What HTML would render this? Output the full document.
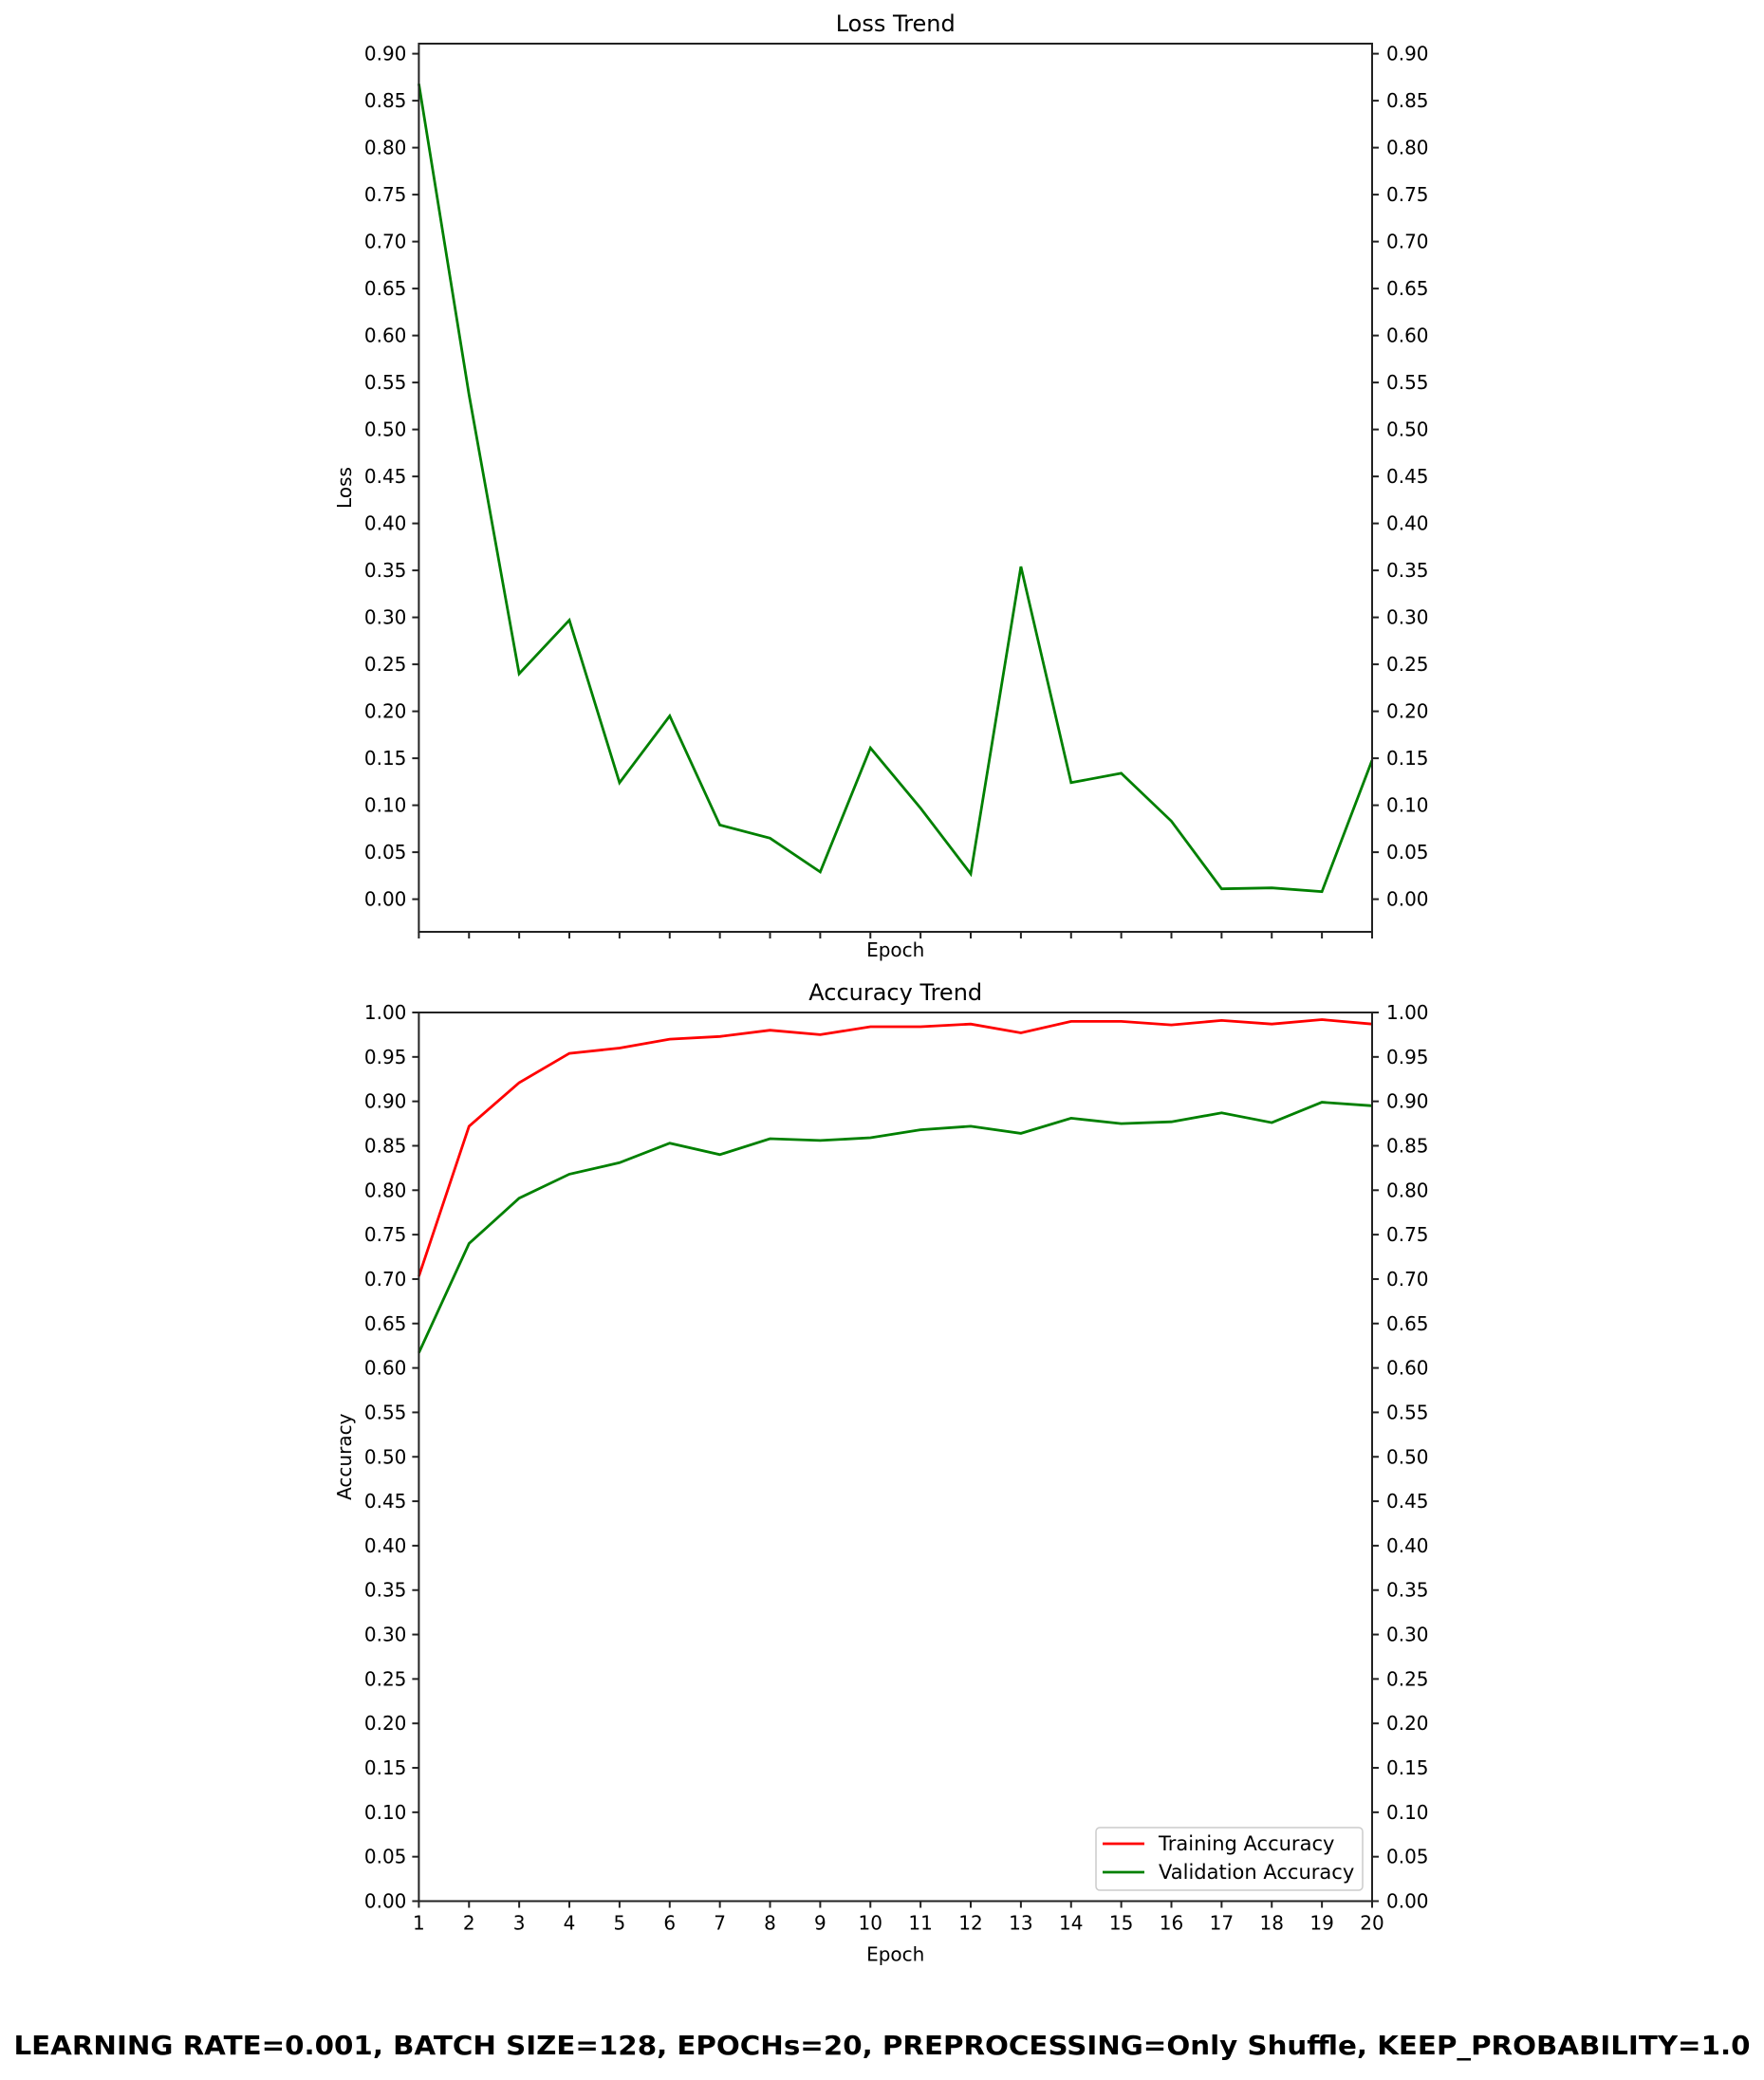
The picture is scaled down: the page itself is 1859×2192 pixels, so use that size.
<!DOCTYPE html>
<html><head><meta charset="utf-8"><style>
html,body{margin:0;padding:0;background:#fff;}
svg text{font-family:"DejaVu Sans","Liberation Sans",sans-serif;fill:#000;}
</style></head><body>
<svg id="fig" xmlns="http://www.w3.org/2000/svg" width="1859" height="2187" viewBox="0 0 1859 2187"></svg>
<script>
const epochs = [1,2,3,4,5,6,7,8,9,10,11,12,13,14,15,16,17,18,19,20];
const lossValues = [0.868,0.537,0.240,0.297,0.124,0.195,0.079,0.065,0.029,0.161,0.097,0.027,0.354,0.124,0.134,0.083,0.011,0.012,0.008,0.148];
const trainAcc = [0.703,0.872,0.921,0.954,0.960,0.970,0.973,0.980,0.975,0.984,0.984,0.987,0.977,0.990,0.990,0.986,0.991,0.987,0.992,0.987];
const valAcc = [0.617,0.740,0.791,0.818,0.831,0.853,0.840,0.858,0.856,0.859,0.868,0.872,0.864,0.881,0.875,0.877,0.887,0.876,0.899,0.895];
const lossTicks = ["0.00","0.05","0.10","0.15","0.20","0.25","0.30","0.35","0.40","0.45","0.50","0.55","0.60","0.65","0.70","0.75","0.80","0.85","0.90"];
const accTicks = ["0.00","0.05","0.10","0.15","0.20","0.25","0.30","0.35","0.40","0.45","0.50","0.55","0.60","0.65","0.70","0.75","0.80","0.85","0.90","0.95","1.00"];

const svg = document.getElementById('fig');
const NS = 'http://www.w3.org/2000/svg';
function mk(tag, attrs, parent, txt){
  const e = document.createElementNS(NS, tag);
  for (const k in attrs) e.setAttribute(k, attrs[k]);
  if (txt !== undefined) e.textContent = txt;
  (parent||svg).appendChild(e);
  return e;
}
const L = 441.4, R = 1446;
const xScale = e => L + (e - 1) * (R - L) / 19;

function drawAxes(name, top, bottom, yScale, ticks, showXLabels, title, ylabel){
  const g = mk('g', {});
  
  
  const t = mk('text', {x:(L+R)/2, y: top-13, 'text-anchor':'middle', 'font-size':24}, g, title);
  
  
  ticks.forEach(lbl => {
    const y = yScale(parseFloat(lbl));
    mk('line', {x1:L-7, x2:L, y1:y, y2:y, stroke:'#222', 'stroke-width':2}, g);
    mk('line', {x1:R, x2:R+7, y1:y, y2:y, stroke:'#222', 'stroke-width':2}, g);
    const a = mk('text', {x:L-13, y:y+7, 'text-anchor':'end', 'font-size':20}, g, lbl);
    
    
    const b = mk('text', {x:R+15, y:y+7, 'font-size':20}, g, lbl);
    
    
  });
  epochs.forEach(e => {
    const x = xScale(e);
    mk('line', {x1:x, x2:x, y1:bottom, y2:bottom+7, stroke:'#222', 'stroke-width':2}, g);
    if (showXLabels){
      const a = mk('text', {x:x, y:bottom+30, 'text-anchor':'middle', 'font-size':20}, g, String(e));
      
      
    }
  });
  const xl = mk('text', {x:(L+R)/2, y: showXLabels ? bottom+63 : bottom+26, 'text-anchor':'middle', 'font-size':20}, g, 'Epoch');
  
  
  const cy = (top+bottom)/2;
  const yl = mk('text', {x:0, y:0, transform:`translate(370 ${cy}) rotate(-90)`, 'text-anchor':'middle', 'font-size':20}, g, ylabel);
  
  
  return g;
}
function drawLine(g, values, yScale, color, name){
  const pts = values.map((v,i) => xScale(epochs[i]).toFixed(1) + ',' + yScale(v).toFixed(1)).join(' ');
  const p = mk('polyline', {points:pts, fill:'none', stroke:color, 'stroke-width':2.8, 'stroke-linejoin':'miter'}, g);
  
  
}
function frame(g, top, bottom){
  mk('rect', {x:L, y:top, width:R-L, height:bottom-top, fill:'none', stroke:'#222', 'stroke-width':2}, g);
}

// Loss chart
const lTop = 46, lBot = 982;
const yLoss = v => 947.6 - v * 990;
const g1 = drawAxes('loss-chart', lTop, lBot, yLoss, lossTicks, false, 'Loss Trend', 'Loss');
drawLine(g1, lossValues, yLoss, '#008000', 'loss-line');
frame(g1, lTop, lBot);

// Accuracy chart
const aTop = 1067, aBot = 2003.5;
const yAcc = v => aBot - v * (aBot - aTop);
const g2 = drawAxes('accuracy-chart', aTop, aBot, yAcc, accTicks, true, 'Accuracy Trend', 'Accuracy');
drawLine(g2, trainAcc, yAcc, '#ff0000', 'training-accuracy-line');
drawLine(g2, valAcc, yAcc, '#008000', 'validation-accuracy-line');
frame(g2, aTop, aBot);

// Legend
const lg = mk('g', {});


mk('rect', {x:1155, y:1926, width:281, height:66, rx:4, fill:'#fff', 'fill-opacity':0.8, stroke:'#ccc', 'stroke-width':1.5}, lg);
const le1 = mk('g', {}, lg);


mk('line', {x1:1162, x2:1206, y1:1943, y2:1943, stroke:'#ff0000', 'stroke-width':2.8}, le1);
mk('text', {x:1221, y:1950, 'font-size':21}, le1, 'Training Accuracy');
const le2 = mk('g', {}, lg);


mk('line', {x1:1162, x2:1206, y1:1973, y2:1973, stroke:'#008000', 'stroke-width':2.8}, le2);
mk('text', {x:1221, y:1980, 'font-size':21}, le2, 'Validation Accuracy');

// Suptitle
const st = mk('text', {x:929.5, y:2165, 'text-anchor':'middle', 'font-size':28, 'font-weight':'bold', textLength:1830, lengthAdjust:'spacingAndGlyphs'}, svg, 'LEARNING RATE=0.001, BATCH SIZE=128, EPOCHs=20, PREPROCESSING=Only Shuffle, KEEP_PROBABILITY=1.0');


</script>
</body></html>
